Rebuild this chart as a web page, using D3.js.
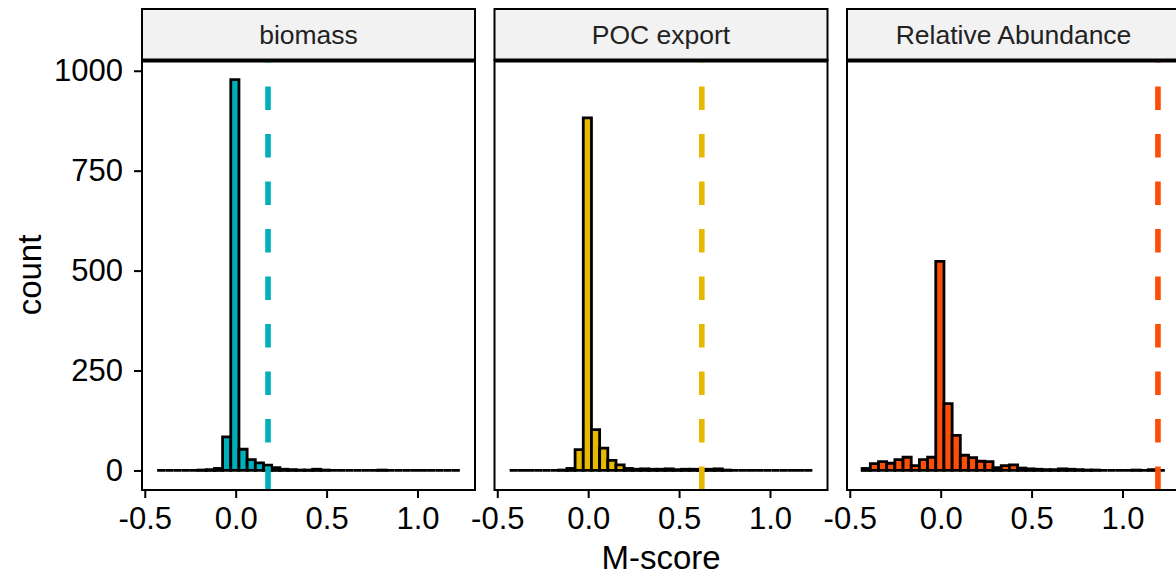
<!DOCTYPE html>
<html>
<head>
<meta charset="utf-8">
<script src="https://cdn.jsdelivr.net/npm/d3@7"></script>
<style>
  html, body { margin: 0; padding: 0; background: #ffffff; overflow: hidden; }
  svg { display: block; }
</style>
</head>
<body>
<svg id="chart" width="1176" height="579"></svg>
<script>
// Facet names, fill colours and the observed M-score of each facet
const facets = ["biomass", "POC export", "Relative Abundance"];
const facetColors = ["#00AFBB", "#E7B800", "#FC4E07"];
const observedScores = [0.178, 0.625, 1.195];

// Histogram bins (shared across facets): first edge and bin width in M-score units
const binStart = -0.432;
const binWidth = 0.045;

// Counts per bin for each facet (37 bins)
const countsBiomass = [0, 0, 0, 0, 0, 1, 2, 5, 84, 978, 53, 27, 19, 13, 7, 3, 2, 1, 1, 3, 1,
                       0, 0, 0, 0, 0, 0, 1, 0, 0, 0, 0, 0, 0, 0, 0, 0];
const countsPOC = [0, 0, 0, 0, 0, 0, 1, 5, 52, 882, 102, 56, 25, 14, 5, 3, 4, 3, 3, 4, 2,
                   3, 3, 2, 3, 4, 1, 0, 0, 0, 0, 0, 0, 0, 0, 0, 0];
const countsRA = [5, 17, 22, 18, 27, 33, 12, 27, 33, 523, 167, 88, 38, 32, 23, 22, 7, 12, 14, 6, 4,
                  3, 2, 2, 4, 3, 2, 1, 1, 0, 0, 0, 0, 1, 0, 2, 0];

// Axis ticks and titles
const xTicks = [-0.5, 0.0, 0.5, 1.0];
const yTicks = [0, 250, 500, 750, 1000];
const xTitle = "M-score";
const yTitle = "count";

const allCounts = [countsBiomass, countsPOC, countsRA];

// ---- layout ----
const font = "'Liberation Sans', Arial, Helvetica, sans-serif";
const panelLeft = 142, panelStep = 352.5, panelW = 333;
const stripTop = 9, panelTop = 60, panelBottom = 490;

const svg = d3.select("#chart");

const nBins = countsBiomass.length;
const binEnd = binStart + nBins * binWidth;
const span = binEnd - binStart;
const xDomain = [binStart - 0.05 * span, binEnd + 0.05 * span];

const yMax = d3.max(allCounts.flat());
const y = d3.scaleLinear()
  .domain([-0.05 * yMax, 1.05 * yMax])
  .range([panelBottom, panelTop]);

facets.forEach((name, i) => {
  const g = svg.append("g")
    .attr("transform", `translate(${panelLeft + i * panelStep},0)`);

  const x = d3.scaleLinear().domain(xDomain).range([0, panelW]);

  const bins = allCounts[i].map((c, k) => ({
    x0: binStart + k * binWidth,
    x1: binStart + (k + 1) * binWidth,
    count: c
  }));

  // panel background
  g.append("rect")
    .attr("x", 0).attr("y", panelTop)
    .attr("width", panelW).attr("height", panelBottom - panelTop)
    .attr("fill", "#ffffff");

  // histogram bars (paths so that empty bins still show their outline)
  g.append("g").selectAll("path")
    .data(bins)
    .join("path")
    .attr("d", d => {
      const p = d3.path();
      p.moveTo(x(d.x0), y(0));
      p.lineTo(x(d.x0), y(d.count));
      p.lineTo(x(d.x1), y(d.count));
      p.lineTo(x(d.x1), y(0));
      p.closePath();
      return p.toString();
    })
    .attr("fill", facetColors[i])
    .attr("stroke", "#000000")
    .attr("stroke-width", 2.8)
    .attr("stroke-linejoin", "miter");

  // observed score, dashed from the bottom of the panel upwards
  g.append("line")
    .attr("x1", x(observedScores[i])).attr("x2", x(observedScores[i]))
    .attr("y1", panelBottom).attr("y2", panelTop)
    .attr("stroke", facetColors[i])
    .attr("stroke-width", 5.6)
    .attr("stroke-dasharray", "23.5 24");

  // panel border
  g.append("rect")
    .attr("x", 0).attr("y", panelTop)
    .attr("width", panelW).attr("height", panelBottom - panelTop)
    .attr("fill", "none")
    .attr("stroke", "#000000")
    .attr("stroke-width", 2);

  // strip
  g.append("rect")
    .attr("x", 0).attr("y", stripTop)
    .attr("width", panelW).attr("height", panelTop - stripTop)
    .attr("fill", "#F2F2F2")
    .attr("stroke", "#000000")
    .attr("stroke-width", 2);
  g.append("line")
    .attr("x1", 0).attr("x2", panelW)
    .attr("y1", panelTop + 0.5).attr("y2", panelTop + 0.5)
    .attr("stroke", "#000000")
    .attr("stroke-width", 4);
  g.append("text")
    .attr("x", panelW / 2).attr("y", 44)
    .attr("text-anchor", "middle")
    .attr("font-family", font)
    .attr("font-size", 26.5)
    .attr("fill", "#222222")
    .text(name);

  // x axis
  const xAxis = g.append("g")
    .attr("transform", `translate(0,${panelBottom})`)
    .call(d3.axisBottom(x)
      .tickValues(xTicks)
      .tickFormat(d => d.toFixed(1))
      .tickSize(8)
      .tickPadding(9));
  xAxis.select(".domain").remove();
  xAxis.selectAll(".tick line").attr("stroke", "#000000").attr("stroke-width", 2);
  xAxis.selectAll(".tick text")
    .attr("font-family", font)
    .attr("font-size", 31)
    .attr("fill", "#000000");

  // y axis on the first panel only
  if (i === 0) {
    const yAxis = g.append("g")
      .call(d3.axisLeft(y)
        .tickValues(yTicks)
        .tickFormat(d => String(d))
        .tickSize(8)
        .tickPadding(11));
    yAxis.select(".domain").remove();
    yAxis.selectAll(".tick line").attr("stroke", "#000000").attr("stroke-width", 2);
    yAxis.selectAll(".tick text")
      .attr("font-family", font)
      .attr("font-size", 31)
      .attr("fill", "#000000");
  }
});

// axis titles
const panelsRight = panelLeft + 2 * panelStep + panelW;
svg.append("text")
  .attr("x", (panelLeft + panelsRight) / 2)
  .attr("y", 569)
  .attr("text-anchor", "middle")
  .attr("font-family", font)
  .attr("font-size", 33)
  .attr("fill", "#000000")
  .text(xTitle);

svg.append("text")
  .attr("transform", `translate(41,${(panelTop + panelBottom) / 2}) rotate(-90)`)
  .attr("text-anchor", "middle")
  .attr("font-family", font)
  .attr("font-size", 33)
  .attr("fill", "#000000")
  .text(yTitle);
</script>
</body>
</html>
